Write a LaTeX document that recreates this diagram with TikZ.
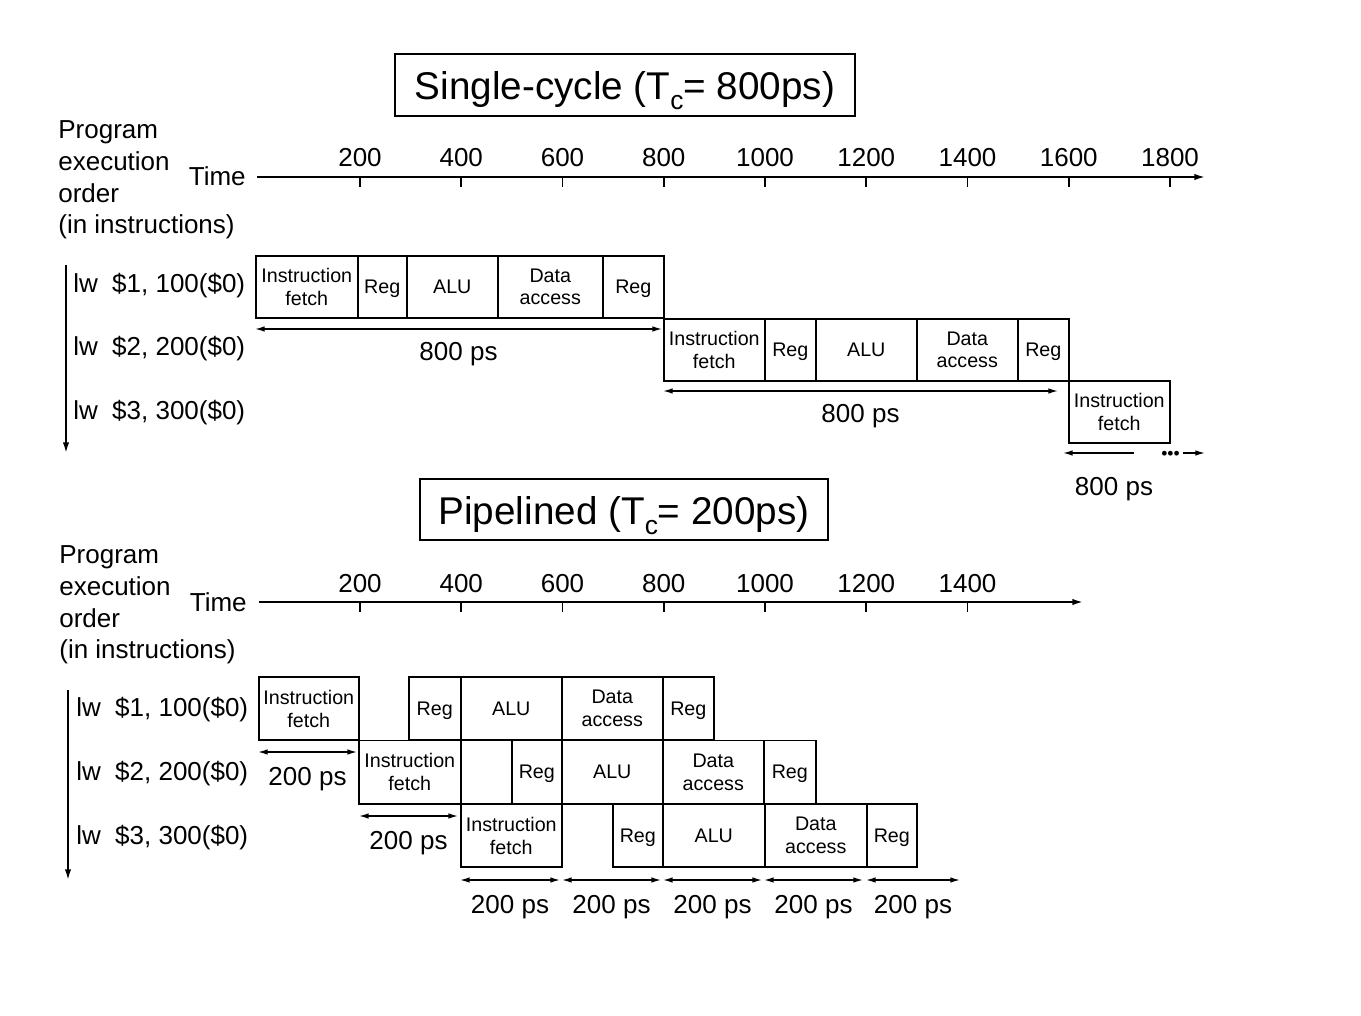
\documentclass[tikz,border=0pt]{standalone}
\usepackage{fontspec}
\setmainfont{Liberation Sans}
\usetikzlibrary{arrows.meta,positioning}
\tikzset{
	stage/.style={draw, line width=0.9pt, inner sep=0pt, text depth=0pt, align=center, anchor=north west, font=\fontsize{11.2}{13}\selectfont},
	title box/.style={draw, line width=0.8pt, inner sep=0pt, text depth=0pt, font=\fontsize{22}{26}\selectfont},
	big text/.style={inner sep=0pt, font=\fontsize{14.8}{18}\selectfont},
	axis/.style={line width=1pt, -{Latex[length=6pt,width=3.6pt]}},
	tick/.style={line width=1pt},
	span/.style={line width=0.8pt, {Latex[length=5.5pt,width=3.2pt]}-{Latex[length=5.5pt,width=3.2pt]}},
	half span/.style={line width=0.8pt, -{Latex[length=5.5pt,width=3.2pt]}},
}
\newcommand{\subc}{\raisebox{-5.5pt}{\fontsize{15}{15}\selectfont c}}

\begin{document}
\begin{tikzpicture}[x=0.02cm, y=-0.02cm]
\useasboundingbox (0,0) rectangle (1361,1016);

%% single-cycle
\node[title box, minimum width=9.2cm, minimum height=1.24cm] (title1) at (625,85) {\raisebox{-1pt}{Single-cycle (T\subc= 800ps)}};
\node[big text, align=left, anchor=west] (order1) at (58,180) {Program\\execution\\order\\(in instructions)};
\node[big text, anchor=base east] (time1) at (246,186) {Time};
\coordinate (ax1) at (257,177);
\coordinate (ax1e) at (1205,177);
\draw[axis] (ax1) -- (ax1e);
\foreach \tv [count=\i] in {200,400,...,1800} {
	\pgfmathsetmacro{\tx}{360+101.25*(\i-1)}
	\draw[tick] (\tx,177) -- (\tx,187);
	\node[big text, anchor=base] (tk1-\i) at (\tx,167) {\tv};
}
\coordinate (ord1) at (66,265);
\coordinate (ord1e) at (66,453);
\draw[axis] (ord1) -- (ord1e);
\foreach \r/\yb in {1/293, 2/356, 3/419}
	\node[big text, anchor=base west] (ins1-\r) at (73,\yb) {lw\hspace{0.55em}\$\r, \r00(\$0)};

% stages, one row per instruction
\foreach \n/\xa/\xb/\txt in {if/255/357/{Instruction\\fetch}, rga/357/406/Reg, alu/406/497/ALU, dat/497/602/{Data\\access}, rgb/602/663/Reg}
	\node[stage, minimum width={(\xb-\xa)*0.02cm}, minimum height=1.24cm] (a1\n) at (\xa,255) {\txt};
\foreach \n/\xa/\xb/\txt in {if/663/764/{Instruction\\fetch}, rga/764/815/Reg, alu/815/916/ALU, dat/916/1017/{Data\\access}, rgb/1017/1068/Reg}
	\node[stage, minimum width={(\xb-\xa)*0.02cm}, minimum height=1.24cm] (a2\n) at (\xa,318) {\txt};
\node[stage, minimum width=2.02cm, minimum height=1.24cm] (a3if) at (1068,380) {Instruction\\fetch};

\coordinate (s1a) at (255,329);
\coordinate (s1b) at (662,329);
\draw[span] (s1a) -- (s1b) node[big text, midway, below=7pt] (ps1) {800 ps};
\coordinate (s2a) at (663,391);
\coordinate (s2b) at (1058,391);
\draw[span] (s2a) -- (s2b) node[big text, midway, below=7pt] (ps2) {800 ps};
\coordinate (s3a) at (1134,453);
\coordinate (s3b) at (1063,453);
\draw[half span] (s3a) -- (s3b);
\node[inner sep=0pt, font=\fontsize{10}{10}\selectfont] (dots) at (1170.5,455.5) {•••};
\coordinate (s3c) at (1183,453);
\coordinate (s3d) at (1205,453);
\draw[half span] (s3c) -- (s3d);
\node[big text, anchor=north] (ps3) at (1114,477) {800 ps};

%% pipelined
\node[title box, minimum width=8.16cm, minimum height=1.22cm] (title2) at (624,509.5) {\raisebox{-1pt}{Pipelined (T\subc= 200ps)}};
\node[big text, align=left, anchor=west] (order2) at (59,605) {Program\\execution\\order\\(in instructions)};
\node[big text, anchor=base east] (time2) at (247,611) {Time};
\coordinate (ax2) at (259,602);
\coordinate (ax2e) at (1083,602);
\draw[axis] (ax2) -- (ax2e);
\foreach \tv [count=\i] in {200,400,...,1400} {
	\pgfmathsetmacro{\tx}{360+101.25*(\i-1)}
	\draw[tick] (\tx,602) -- (\tx,612);
	\node[big text, anchor=base] (tk2-\i) at (\tx,592) {\tv};
}
\coordinate (ord2) at (68,690);
\coordinate (ord2e) at (68,880);
\draw[axis] (ord2) -- (ord2e);
\foreach \r/\yb in {1/716, 2/780, 3/844}
	\node[big text, anchor=base west] (ins2-\r) at (76,\yb) {lw\hspace{0.55em}\$\r, \r00(\$0)};

% stages, overlapped
\foreach \n/\xa/\xb/\txt in {if/258/358/{Instruction\\fetch}, rga/408/460/Reg, alu/460/561/ALU, dat/561/662/{Data\\access}, rgb/662/713/Reg}
	\node[stage, minimum width={(\xb-\xa)*0.02cm}, minimum height=1.27cm] (b1\n) at (\xa,676) {\txt};
\foreach \n/\xa/\xb/\txt in {if/358/460/{Instruction\\fetch}, rga/511/561/Reg, alu/561/662/ALU, dat/662/763/{Data\\access}, rgb/763/815/Reg}
	\node[stage, minimum width={(\xb-\xa)*0.02cm}, minimum height=1.27cm] (b2\n) at (\xa,739.5) {\txt};
\foreach \n/\xa/\xb/\txt in {if/460/561/{Instruction\\fetch}, rga/612/662/Reg, alu/662/764/ALU, dat/764/866/{Data\\access}, rgb/866/916/Reg}
	\node[stage, minimum width={(\xb-\xa)*0.02cm}, minimum height=1.27cm] (b3\n) at (\xa,803) {\txt};

\coordinate (p1a) at (258,752);
\coordinate (p1b) at (357,752);
\draw[span] (p1a) -- (p1b) node[big text, midway, below=8.5pt] (qs1) {200 ps};
\coordinate (p2a) at (359,816);
\coordinate (p2b) at (458,816);
\draw[span] (p2a) -- (p2b) node[big text, midway, below=8.5pt] (qs2) {200 ps};
\foreach \xa/\xb [count=\i] in {460/560, 562/661, 663/762, 764/863, 866/960} {
	\coordinate (p3a-\i) at (\xa,880);
	\coordinate (p3b-\i) at (\xb,880);
	\draw[span] (p3a-\i) -- (p3b-\i) node[big text, midway, below=8.5pt] (qs3-\i) {200 ps};
}

\end{tikzpicture}
\end{document}
